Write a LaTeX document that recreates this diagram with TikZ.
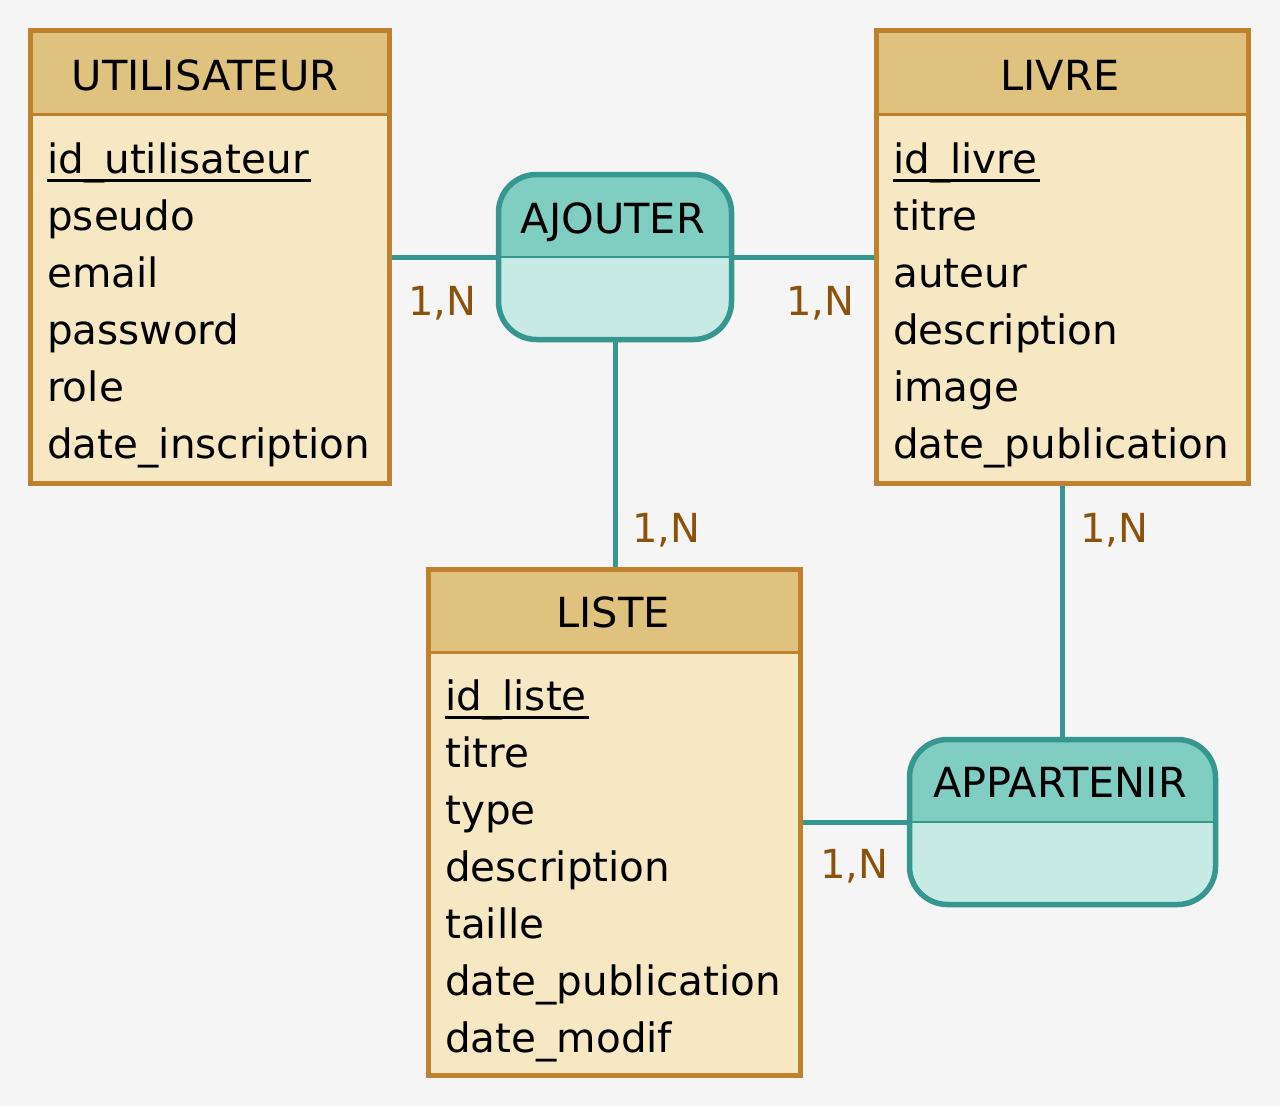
\documentclass[tikz,border=0pt]{standalone}
\usepackage{fontspec}
\setmainfont{DejaVu Sans}
\definecolor{bgc}{HTML}{F5F5F5}
\definecolor{hdrc}{HTML}{DFC27D}
\definecolor{bodyc}{HTML}{F6E8C3}
\definecolor{brdc}{HTML}{BF812D}
\definecolor{rhdrc}{HTML}{80CDC1}
\definecolor{rbodyc}{HTML}{C7EAE5}
\definecolor{tealc}{HTML}{35978F}
\definecolor{lblc}{HTML}{8C510A}
\newcommand\bigtxt{\fontsize{40.5}{48}\selectfont}
\newcommand\ttltxt{\fontsize{41.5}{48}\selectfont}
\newcommand\cardtxt{\fontsize{40}{48}\selectfont}
\begin{document}
\begin{tikzpicture}[x=1pt,y=-1pt,
  ebox/.style={draw=brdc, line width=5, inner sep=0},
  rbox/.style={draw=tealc, line width=5.5, rounded corners=38, inner sep=0},
  ediv/.style={draw=brdc, line width=3},
  rdiv/.style={draw=tealc, line width=2.5},
  etitle/.style={anchor=base, inner sep=0, font=\ttltxt, text=black},
  attr/.style={anchor=base west, inner sep=0, font=\bigtxt, text=black},
  uline/.style={draw=black, line width=3},
  conn/.style={draw=tealc, line width=5},
  card/.style={anchor=base west, inner sep=0, font=\cardtxt, text=lblc}]
\fill[bgc] (0,0) rectangle (1280,1106);
\useasboundingbox (0,0) rectangle (1280,1106);

% ---------- UTILISATEUR ----------
\fill[hdrc] (30.5,30.5) rectangle (389.5,114);
\fill[bodyc] (30.5,114) rectangle (389.5,483.5);
\draw[ediv] (30.5,114) -- (389.5,114);
\node[ebox, minimum width=359, minimum height=453] (util) at (210,257) {};
\node[etitle] (utilT) at (205,90) {UTILISATEUR};
\node[attr] (u1) at (47,173) {id\_utilisateur};
\draw[uline] ([yshift=-7pt]u1.base west) -- ([yshift=-7pt,xshift=2pt]u1.base east);
\node[attr] (u2) at (47,230) {pseudo};
\node[attr] (u3) at (47,287) {email};
\node[attr] (u4) at (47,344) {password};
\node[attr] (u5) at (47,401) {role};
\node[attr] (u6) at (47,458) {date\_inscription};

% ---------- LIVRE ----------
\fill[hdrc] (876.5,30.5) rectangle (1248.5,114);
\fill[bodyc] (876.5,114) rectangle (1248.5,483.5);
\draw[ediv] (876.5,114) -- (1248.5,114);
\node[ebox, minimum width=372, minimum height=453] (livre) at (1062.5,257) {};
\node[etitle] (livreT) at (1060,90) {LIVRE};
\node[attr] (l1) at (893,173) {id\_livre};
\draw[uline] ([yshift=-7pt]l1.base west) -- ([yshift=-7pt,xshift=2pt]l1.base east);
\node[attr] (l2) at (893,230) {titre};
\node[attr] (l3) at (893,287) {auteur};
\node[attr] (l4) at (893,344) {description};
\node[attr] (l5) at (893,401) {image};
\node[attr] (l6) at (893,458) {date\_publication};

% ---------- LISTE ----------
\fill[hdrc] (428.5,569.5) rectangle (800.5,652);
\fill[bodyc] (428.5,652) rectangle (800.5,1075.5);
\draw[ediv] (428.5,652) -- (800.5,652);
\node[ebox, minimum width=372, minimum height=506] (liste) at (614.5,822.5) {};
\node[etitle] (listeT) at (613,627) {LISTE};
\node[attr] (s1) at (445,710) {id\_liste};
\draw[uline] ([yshift=-7pt]s1.base west) -- ([yshift=-7pt,xshift=2pt]s1.base east);
\node[attr] (s2) at (445,767) {titre};
\node[attr] (s3) at (445,824) {type};
\node[attr] (s4) at (445,881) {description};
\node[attr] (s5) at (445,938) {taille};
\node[attr] (s6) at (445,995) {date\_publication};
\node[attr] (s7) at (445,1052) {date\_modif};

% ---------- AJOUTER ----------
\begin{scope}
\clip[rounded corners=38] (498.5,174.5) rectangle (731.5,339.5);
\fill[rbodyc] (498.5,174.5) rectangle (731.5,339.5);
\fill[rhdrc] (498.5,174.5) rectangle (731.5,257);
\draw[rdiv] (498.5,257) -- (731.5,257);
\end{scope}
\node[rbox, minimum width=233, minimum height=165] (ajouter) at (615,257) {};
\node[etitle] (ajouterT) at (613,233) {AJOUTER};

% ---------- APPARTENIR ----------
\begin{scope}
\clip[rounded corners=38] (909.5,739.5) rectangle (1215.5,904.5);
\fill[rbodyc] (909.5,739.5) rectangle (1215.5,904.5);
\fill[rhdrc] (909.5,739.5) rectangle (1215.5,822);
\draw[rdiv] (909.5,822) -- (1215.5,822);
\end{scope}
\node[rbox, minimum width=306, minimum height=165] (app) at (1062.5,822) {};
\node[etitle] (appT) at (1060,797) {APPARTENIR};

% ---------- connectors ----------
\draw[conn] (util.east) -- (ajouter.west);
\draw[conn] (ajouter.east) -- (livre.west);
\draw[conn] (ajouter.south) -- (ajouter.south |- liste.north);
\draw[conn] (livre.south) -- (livre.south |- app.north);
\draw[conn] (liste.east |- app.west) -- (app.west);

% ---------- cardinalities ----------
\node[card] (c1) at (408,315) {1,N};
\node[card] (c2) at (786,315) {1,N};
\node[card] (c3) at (632,542) {1,N};
\node[card] (c4) at (1080,542) {1,N};
\node[card] (c5) at (820,878) {1,N};
\end{tikzpicture}
\end{document}
